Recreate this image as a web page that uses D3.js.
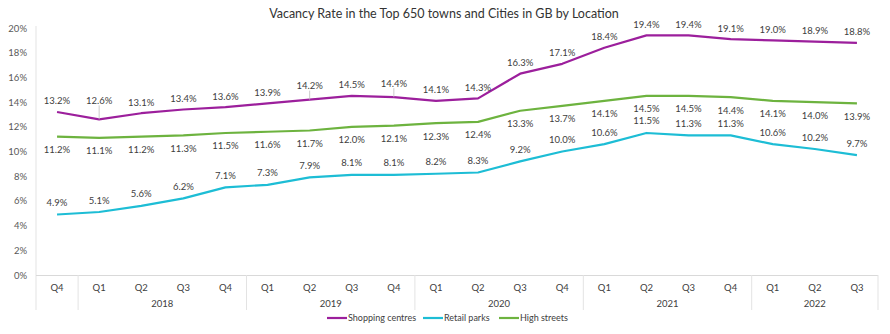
<!DOCTYPE html>
<html>
<head>
<meta charset="utf-8">
<script src="https://cdn.jsdelivr.net/npm/d3@7"></script>
<style>
  body { margin: 0; background: #fff; }
  text { font-family: Lato, "Open Sans", sans-serif; }
</style>
</head>
<body>
<div id="chart"></div>
<script>
// data
const quarters = ["Q4", "Q1", "Q2", "Q3", "Q4", "Q1", "Q2", "Q3", "Q4", "Q1", "Q2", "Q3", "Q4",
                  "Q1", "Q2", "Q3", "Q4", "Q1", "Q2", "Q3"];
const years = [
  {label: "", from: 0, to: 0},
  {label: "2018", from: 1, to: 4},
  {label: "2019", from: 5, to: 8},
  {label: "2020", from: 9, to: 12},
  {label: "2021", from: 13, to: 16},
  {label: "2022", from: 17, to: 19}
];
const shopping = [13.2, 12.6, 13.1, 13.4, 13.6, 13.9, 14.2, 14.5, 14.4, 14.1, 14.3, 16.3, 17.1, 18.4, 19.4, 19.4, 19.1, 19.0, 18.9, 18.8];
const retail = [4.9, 5.1, 5.6, 6.2, 7.1, 7.3, 7.9, 8.1, 8.1, 8.2, 8.3, 9.2, 10.0, 10.6, 11.5, 11.3, 11.3, 10.6, 10.2, 9.7];
const high = [11.2, 11.1, 11.2, 11.3, 11.5, 11.6, 11.7, 12.0, 12.1, 12.3, 12.4, 13.3, 13.7, 14.1, 14.5, 14.5, 14.4, 14.1, 14.0, 13.9];
const yTicks = [0, 2, 4, 6, 8, 10, 12, 14, 16, 18, 20];

const series = [
  {name: "Shopping centres", values: shopping, color: "#9c1f9c", dy: -11},
  {name: "Retail parks", values: retail, color: "#1dbdd5", dy: -12},
  {name: "High streets", values: high, color: "#6db33f", dy: 13}
];
// labels pushed further up, with a leader line
const leaderLift = {1: 8, 6: 3, 8: 3};

const W = 890, H = 334;
const m = {left: 36, right: 878, top: 28, bottom: 275};

const svg = d3.select("#chart").append("svg")
  .attr("width", W).attr("height", H);

const x = d3.scaleBand().domain(d3.range(quarters.length)).range([m.left, m.right]);
const y = d3.scaleLinear().domain([0, 20]).range([m.bottom, m.top]);
const cx = i => x(i) + x.bandwidth() / 2;

// title
svg.append("text")
  .attr("x", 444).attr("y", 18)
  .attr("text-anchor", "middle")
  .attr("font-size", 12.5).attr("fill", "#333")
  .text("Vacancy Rate in the Top 650 towns and Cities in GB by Location");

// y axis labels
svg.selectAll(".ytick").data(yTicks).enter().append("text")
  .attr("x", 27).attr("y", d => y(d) + 3.5)
  .attr("text-anchor", "end")
  .attr("font-size", 9.5).attr("fill", "#595959")
  .text(d => d + "%");

// axis lines
svg.append("line").attr("x1", m.left).attr("x2", m.left).attr("y1", m.top - 2).attr("y2", 310)
  .attr("stroke", "#e3e3e3").attr("stroke-width", 1);
svg.append("line").attr("x1", m.left).attr("x2", m.right).attr("y1", m.bottom + 0.5).attr("y2", m.bottom + 0.5)
  .attr("stroke", "#d9d9d9").attr("stroke-width", 1.2);

// year separators
const seps = years.map(g => g.to + 1);
svg.selectAll(".sep").data(seps).enter().append("line")
  .attr("x1", d => d < quarters.length ? x(d) : m.right)
  .attr("x2", d => d < quarters.length ? x(d) : m.right)
  .attr("y1", m.bottom).attr("y2", 310)
  .attr("stroke", "#e3e3e3");

// quarter labels
svg.selectAll(".q").data(quarters).enter().append("text")
  .attr("x", (d, i) => cx(i)).attr("y", 291)
  .attr("text-anchor", "middle")
  .attr("font-size", 9.5).attr("fill", "#404040")
  .text(d => d);

// year labels
svg.selectAll(".yr").data(years).enter().append("text")
  .attr("x", d => (x(d.from) + x(d.to) + x.bandwidth()) / 2).attr("y", 307)
  .attr("text-anchor", "middle")
  .attr("font-size", 9.5).attr("fill", "#404040")
  .text(d => d.label);

const line = d3.line().x((d, i) => cx(i)).y(d => y(d));

series.forEach(s => {
  svg.append("path")
    .datum(s.values)
    .attr("d", line)
    .attr("fill", "none")
    .attr("stroke", s.color)
    .attr("stroke-width", 2.2)
    .attr("stroke-linejoin", "round");

  const g = svg.append("g");
  s.values.forEach((v, i) => {
    let ly = y(v) + s.dy;
    if (s.name === "Shopping centres" && leaderLift[i]) {
      ly -= leaderLift[i];
      g.append("line")
        .attr("x1", cx(i)).attr("x2", cx(i))
        .attr("y1", ly + 5).attr("y2", y(v))
        .attr("stroke", "#bfbfbf").attr("stroke-width", 0.8);
    }
    g.append("text")
      .attr("x", cx(i)).attr("y", ly + 3.5)
      .attr("text-anchor", "middle")
      .attr("font-size", 9.5).attr("fill", "#404040")
      .text(v.toFixed(1) + "%");
  });
});

// legend
const legendX = [327, 423, 499];
const lg = svg.selectAll(".lg").data(series).enter().append("g")
  .attr("transform", (d, i) => `translate(${legendX[i]},318)`);
lg.append("line").attr("x1", 0).attr("x2", 20).attr("y1", 0).attr("y2", 0)
  .attr("stroke", d => d.color).attr("stroke-width", 2.2);
lg.append("text").attr("x", 21).attr("y", 3.2)
  .attr("font-size", 9).attr("fill", "#404040")
  .text(d => d.name);
</script>
</body>
</html>
